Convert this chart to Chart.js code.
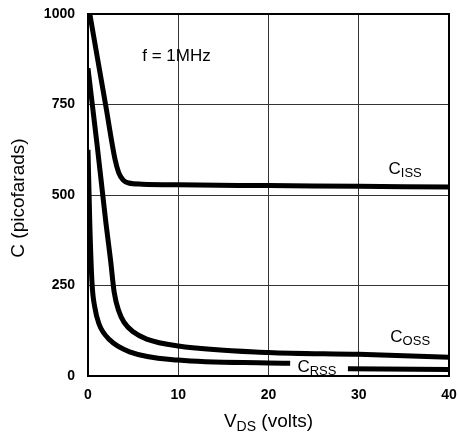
<!DOCTYPE html>
<html>
<head>
<meta charset="utf-8">
<script src="https://cdn.jsdelivr.net/npm/chart.js@4.4.1/dist/chart.umd.min.js"></script>
<style>
html,body{margin:0;padding:0;background:#fff;}
canvas{display:block;}
</style>
</head>
<body>
<canvas id="c" width="459" height="438"></canvas>
<script>
// ---- data ----
const xTicks = [0, 10, 20, 30, 40];
const yTicks = [0, 250, 500, 750, 1000];

const vdsCiss = [0.2, 1.0, 2.0, 3.0, 3.4, 3.9, 4.5, 6, 10, 20, 30, 40];
const ciss    = [1000, 885, 742, 598, 562, 541, 533, 530, 528, 526, 524, 522];

const vdsCoss = [0, 0.5, 1.0, 1.5, 2.0, 2.5, 2.9, 3.4, 4.0, 5.0, 6.5, 10, 20, 30, 40];
const coss    = [850, 745, 640, 530, 420, 320, 232, 180, 148, 122, 102, 83, 65, 60, 52];

const vdsCrss = [0, 0.2, 0.45, 0.75, 1.2, 2.4, 4.7, 10, 20, 22.4, 25, 28.8, 40];
const crss    = [625, 420, 255, 190, 145, 100, 66, 44, 36, 35, null, 20, 18];

const mk = (xs, ys) => xs.map((x, i) => ({x: x, y: ys[i]}));

const FONT = '"Liberation Sans", Arial, Helvetica, sans-serif';

function subWidth(ctx, main, sub, size, subSize) {
  ctx.font = size + 'px ' + FONT;
  const w1 = ctx.measureText(main).width;
  ctx.font = subSize + 'px ' + FONT;
  return w1 + ctx.measureText(sub).width;
}

function drawSub(ctx, main, sub, x, y, size, subSize, drop) {
  ctx.textBaseline = 'alphabetic';
  ctx.textAlign = 'left';
  ctx.font = size + 'px ' + FONT;
  const w1 = ctx.measureText(main).width;
  ctx.fillText(main, x, y);
  ctx.font = subSize + 'px ' + FONT;
  const w2 = ctx.measureText(sub).width;
  ctx.fillText(sub, x + w1, y + drop);
  return x + w1 + w2;
}

const decor = {
  id: 'decor',
  beforeDatasetsDraw(chart) {
    const {ctx, chartArea: a} = chart;
    ctx.save();
    ctx.strokeStyle = '#000';
    ctx.lineWidth = 2;
    ctx.strokeRect(a.left, a.top, a.right - a.left, a.bottom - a.top);
    ctx.restore();
  },
  afterDraw(chart) {
    const {ctx, chartArea: a} = chart;
    const xs = chart.scales.x, ys = chart.scales.y;
    ctx.save();
    ctx.fillStyle = '#000';
    // annotations
    ctx.font = '17px ' + FONT;
    ctx.textAlign = 'center';
    ctx.textBaseline = 'middle';
    ctx.fillText('f = 1MHz', xs.getPixelForValue(9.8), ys.getPixelForValue(882));
    drawSub(ctx, 'C', 'ISS', xs.getPixelForValue(33.3), ys.getPixelForValue(574) + 6, 17, 13, 3);
    drawSub(ctx, 'C', 'OSS', xs.getPixelForValue(33.5), ys.getPixelForValue(111) + 6, 17, 13, 3);
    drawSub(ctx, 'C', 'RSS', xs.getPixelForValue(23.2), ys.getPixelForValue(28) + 6, 17, 13, 3);
    // x title, centred under the plot
    const wVD = subWidth(ctx, 'V', 'DS', 19, 14);
    ctx.font = '19px ' + FONT;
    const wRest = ctx.measureText(' (volts)').width;
    const x0 = (a.left + a.right) / 2 - (wVD + wRest) / 2;
    const end = drawSub(ctx, 'V', 'DS', x0, 427, 19, 14, 4);
    ctx.font = '19px ' + FONT;
    ctx.fillText(' (volts)', end, 427);
    // y title
    ctx.translate(19, 198);
    ctx.rotate(-Math.PI / 2);
    ctx.textAlign = 'center';
    ctx.textBaseline = 'middle';
    ctx.font = '19px ' + FONT;
    ctx.fillText('C (picofarads)', 0, 0);
    ctx.restore();
  }
};

const lineStyle = {
  borderColor: '#000',
  backgroundColor: '#000',
  borderWidth: 5,
  pointRadius: 0,
  fill: false,
  cubicInterpolationMode: 'monotone',
  spanGaps: false,
  borderCapStyle: 'butt',
  borderJoinStyle: 'round'
};

const tickFont = {family: FONT, size: 14, weight: 'bold'};

new Chart(document.getElementById('c'), {
  type: 'line',
  data: {
    datasets: [
      Object.assign({label: 'Ciss', data: mk(vdsCiss, ciss)}, lineStyle),
      Object.assign({label: 'Coss', data: mk(vdsCoss, coss)}, lineStyle),
      Object.assign({label: 'Crss', data: mk(vdsCrss, crss)}, lineStyle)
    ]
  },
  options: {
    responsive: false,
    animation: false,
    devicePixelRatio: 1,
    layout: {padding: {top: 14, right: 10, left: 0, bottom: 0}},
    plugins: {legend: {display: false}, tooltip: {enabled: false}},
    scales: {
      x: {
        type: 'linear', min: 0, max: 40,
        afterBuildTicks: s => { s.ticks = xTicks.map(v => ({value: v})); },
        afterFit: s => { s.height = 62; s.paddingLeft = 0; s.paddingRight = 0; },
        grid: {color: '#333', lineWidth: 1, drawTicks: false},
        border: {display: false},
        ticks: {padding: 11, color: '#000', font: tickFont, maxRotation: 0, callback: v => String(v)}
      },
      y: {
        type: 'linear', min: 0, max: 1000,
        afterBuildTicks: s => { s.ticks = yTicks.map(v => ({value: v})); },
        afterFit: s => { s.width = 88; s.paddingTop = 0; s.paddingBottom = 0; },
        grid: {color: '#333', lineWidth: 1, drawTicks: false},
        border: {display: false},
        ticks: {padding: 13, color: '#000', font: tickFont, callback: v => String(v)}
      }
    }
  },
  plugins: [decor]
});
</script>
</body>
</html>
